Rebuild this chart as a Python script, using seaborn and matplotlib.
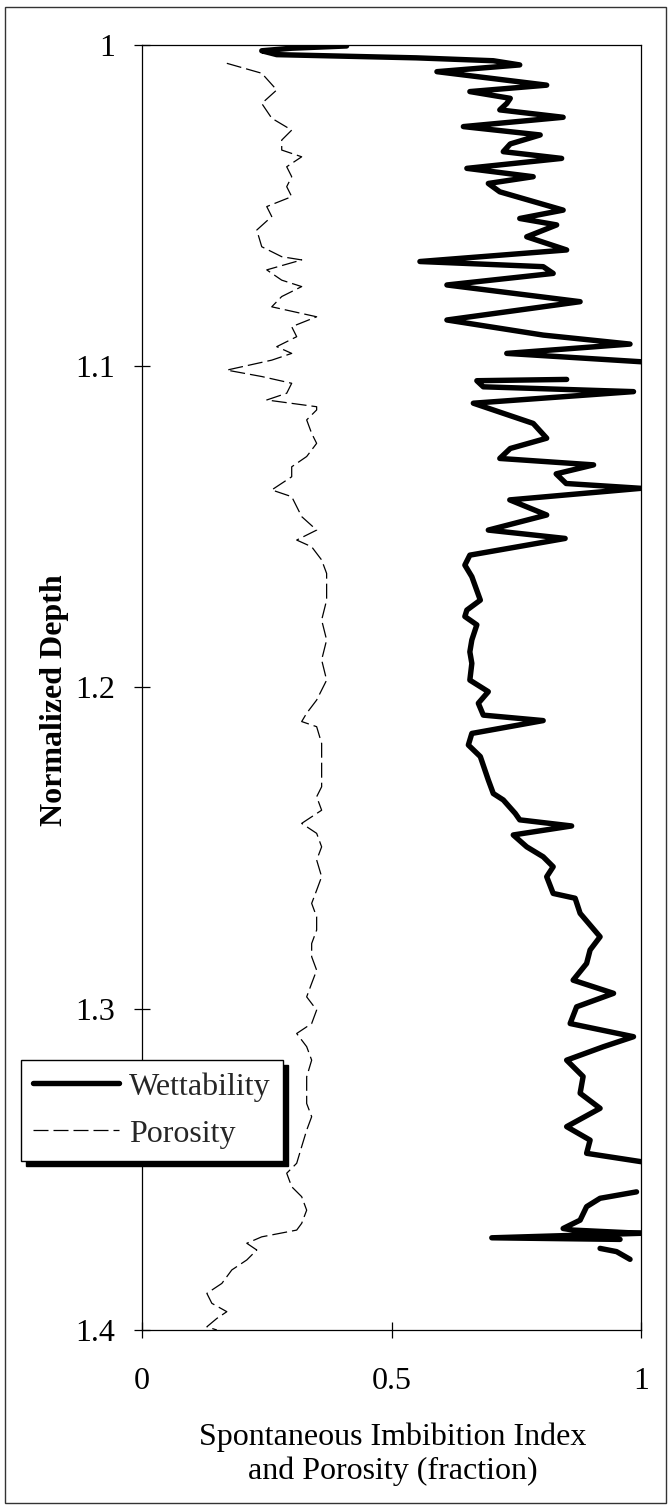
import numpy as np
import pandas as pd
import matplotlib
matplotlib.use("Agg")
import matplotlib.pyplot as plt
from matplotlib.lines import Line2D
from matplotlib.patches import Rectangle
import seaborn as sns

# ---------------- data ----------------
wet_seg1_x = [0.41, 0.30, 0.24, 0.27, 0.55, 0.704, 0.757, 0.591, 0.811, 0.657, 0.738, 0.731, 0.717,
              0.844, 0.644, 0.798, 0.738, 0.724, 0.841, 0.651, 0.784, 0.694, 0.717, 0.844, 0.757,
              0.831, 0.771, 0.851, 0.557, 0.804, 0.824, 0.611, 0.878, 0.611, 0.804, 0.978, 0.731,
              1.00, 1.02]
wet_seg1_d = [1.0003, 1.0010, 1.0018, 1.0030, 1.0040, 1.0049, 1.0062, 1.0083, 1.0125, 1.0145, 1.0166,
              1.0182, 1.0202, 1.0225, 1.0254, 1.0280, 1.0308, 1.0332, 1.0353, 1.0384, 1.0410, 1.0431,
              1.0457, 1.0514, 1.0540, 1.0560, 1.0597, 1.0638, 1.0674, 1.0690, 1.0711, 1.0747, 1.0799,
              1.0856, 1.0903, 1.0931, 1.0960, 1.0986, 1.0990]
wet_seg2_x = [0.851, 0.671, 0.684, 0.985, 0.664, 0.784, 0.811, 0.738, 0.717, 0.905, 0.83, 0.85,
              1.00, 0.737, 0.811, 0.694, 0.848, 0.657, 0.647, 0.661, 0.678, 0.651, 0.647, 0.671,
              0.661, 0.657, 0.661, 0.657, 0.694, 0.674, 0.684, 0.804, 0.661, 0.654, 0.678, 0.694,
              0.704, 0.724, 0.748, 0.757, 0.861, 0.744, 0.771, 0.804, 0.824, 0.811, 0.824, 0.868,
              0.878, 0.918, 0.898, 0.891, 0.864, 0.945, 0.871, 0.858, 0.985, 0.925, 0.851, 0.884,
              0.878, 0.918, 0.851, 0.898, 0.891, 1.00]
wet_seg2_d = [1.1041, 1.1045, 1.1064, 1.1079, 1.1115, 1.1178, 1.1224, 1.1256, 1.1287, 1.1307, 1.1335,
              1.1365, 1.1380, 1.1416, 1.1463, 1.1510, 1.1536, 1.1588, 1.1619, 1.1655, 1.1728, 1.1759,
              1.1779, 1.1805, 1.1852, 1.1889, 1.1925, 1.1977, 1.2013, 1.2049, 1.2086, 1.2103, 1.2143,
              1.2179, 1.2215, 1.2288, 1.2330, 1.2350, 1.2392, 1.2412, 1.2431, 1.2459, 1.2496, 1.2527,
              1.2558, 1.2589, 1.2641, 1.2656, 1.2703, 1.2776, 1.2817, 1.2859, 1.2911, 1.2952, 1.2994,
              1.3046, 1.3087, 1.3118, 1.3160, 1.3211, 1.3263, 1.3310, 1.3367, 1.3409, 1.3450, 1.3476]
wet_seg3_x = [0.991, 0.918, 0.891, 0.878, 0.844, 0.864, 1.00, 0.701, 0.958]
wet_seg3_d = [1.3570, 1.3590, 1.3616, 1.3658, 1.3684, 1.3689, 1.3699, 1.3713, 1.3718]
wet_seg4_x = [0.918, 0.951, 0.978]
wet_seg4_d = [1.3746, 1.3756, 1.3780]

por_x = [0.17, 0.24, 0.27, 0.24, 0.26, 0.30, 0.28, 0.28, 0.32, 0.29, 0.30, 0.29, 0.30, 0.25, 0.26,
         0.23, 0.24, 0.28, 0.32, 0.25, 0.28, 0.32, 0.28, 0.26, 0.35, 0.30, 0.31, 0.27, 0.30, 0.26,
         0.17, 0.24, 0.30, 0.29, 0.25, 0.35, 0.35, 0.33, 0.34, 0.35, 0.33, 0.30, 0.30, 0.26, 0.30,
         0.31, 0.32, 0.35, 0.31, 0.34, 0.36, 0.37, 0.37, 0.36, 0.37, 0.36, 0.37, 0.35, 0.33, 0.32,
         0.35, 0.36, 0.36, 0.36, 0.35, 0.36, 0.32, 0.35, 0.36, 0.35, 0.36, 0.35, 0.34, 0.35, 0.35,
         0.34, 0.34, 0.35, 0.34, 0.33, 0.35, 0.34, 0.31, 0.33, 0.34, 0.33, 0.33, 0.33, 0.34, 0.33,
         0.32, 0.31, 0.29, 0.30, 0.32, 0.33, 0.32, 0.31, 0.24, 0.21, 0.23, 0.21, 0.18, 0.16, 0.13,
         0.14, 0.17, 0.15, 0.13, 0.15]
por_d = [1.0057, 1.0088, 1.0140, 1.0182, 1.0228, 1.0265, 1.0296, 1.0327, 1.0348, 1.0379, 1.0410,
         1.0441, 1.0472, 1.0503, 1.0534, 1.0576, 1.0628, 1.0659, 1.0669, 1.0700, 1.0732, 1.0752,
         1.0783, 1.0815, 1.0846, 1.0877, 1.0908, 1.0939, 1.0960, 1.0981, 1.1012, 1.1032, 1.1053,
         1.1084, 1.1105, 1.1126, 1.1136, 1.1167, 1.1209, 1.1240, 1.1281, 1.1313, 1.1344, 1.1385,
         1.1406, 1.1437, 1.1468, 1.1510, 1.1541, 1.1562, 1.1603, 1.1645, 1.1728, 1.1790, 1.1852,
         1.1914, 1.1977, 1.2039, 1.2080, 1.2106, 1.2122, 1.2174, 1.2246, 1.2309, 1.2340, 1.2382,
         1.2423, 1.2454, 1.2496, 1.2537, 1.2589, 1.2631, 1.2672, 1.2714, 1.2755, 1.2797, 1.2838,
         1.2880, 1.2921, 1.2963, 1.3004, 1.3046, 1.3077, 1.3118, 1.3160, 1.3212, 1.3253, 1.3295,
         1.3336, 1.3378, 1.3429, 1.3481, 1.3512, 1.3554, 1.3585, 1.3627, 1.3668, 1.3689, 1.3710,
         1.3730, 1.3751, 1.3782, 1.3813, 1.3855, 1.3886, 1.3917, 1.3943, 1.3964, 1.3990, 1.4000]

series_labels = ["Wettability", "Porosity"]
x_ticks = [0, 0.5, 1]
x_tick_labels = ["0", "0.5", "1"]
y_ticks = [1.0, 1.1, 1.2, 1.3, 1.4]
y_tick_labels = ["1", "1.1", "1.2", "1.3", "1.4"]
x_label = "Spontaneous Imbibition Index\nand Porosity (fraction)"
y_label = "Normalized Depth"

# ---------------- style ----------------
sns.set_style("white")
plt.rcParams["font.family"] = ["Liberation Serif", "DejaVu Serif"]

W, H = 669, 1511
fig = plt.figure(figsize=(W / 100, H / 100), dpi=100)
ax = fig.add_axes([142 / W, 1 - 1330 / H, 499 / W, 1285 / H])

wet_segs = [(wet_seg1_x, wet_seg1_d), (wet_seg2_x, wet_seg2_d),
            (wet_seg3_x, wet_seg3_d), (wet_seg4_x, wet_seg4_d)]
wet_df = pd.concat([pd.DataFrame({"x": sx, "depth": sd, "seg": i})
                    for i, (sx, sd) in enumerate(wet_segs)], ignore_index=True)
por_df = pd.DataFrame({"x": por_x, "depth": por_d, "seg": 0})

sns.lineplot(data=por_df, x="x", y="depth", units="seg", estimator=None, sort=False,
             color="black", lw=0.9, linestyle=(0, (12, 4)), ax=ax, legend=False)
sns.lineplot(data=wet_df, x="x", y="depth", units="seg", estimator=None, sort=False,
             color="black", lw=3.9, ax=ax, legend=False, solid_joinstyle="round",
             solid_capstyle="round")

ax.set_xlim(0, 1)
ax.set_ylim(1.4, 1.0)
ax.set_xticks(x_ticks)
ax.set_xticklabels(x_tick_labels)
ax.set_yticks(y_ticks)
ax.set_yticklabels(y_tick_labels)
ax.tick_params(axis="both", direction="inout", length=11.5, width=0.9, color="black",
               labelsize=23, labelcolor="black")
ax.tick_params(axis="x", pad=21, bottom=True, top=False)
ax.tick_params(axis="y", pad=13.5, left=True, right=False)
for s in ax.spines.values():
    s.set_visible(True)
    s.set_color("black")
    s.set_linewidth(0.9)

ax.set_xlabel(x_label, fontsize=23, color="black", linespacing=1.2)
ax.xaxis.set_label_coords(0.502, -0.0716)
ax.set_ylabel(y_label, fontsize=23, fontweight="bold", color="black")
ax.yaxis.set_label_coords(-0.146, 0.49)

handles = [Line2D([], [], color="black", lw=3.9),
           Line2D([], [], color="black", lw=0.9, linestyle=(0, (12, 4)))]
leg = ax.legend(handles, series_labels, loc="upper left",
                bbox_to_anchor=((21 - 142) / 499, (1330 - 1060) / 1285),
                borderaxespad=0, fontsize=23, handlelength=2.7, handletextpad=0.3,
                borderpad=0.38, labelspacing=0.55, frameon=True, fancybox=False,
                shadow={"ox": 3.5, "oy": -3.5, "facecolor": "black", "edgecolor": "black",
                        "alpha": 1})
leg.get_frame().set_edgecolor("black")
leg.get_frame().set_linewidth(1.0)
leg.get_frame().set_facecolor("white")
leg.get_frame().set_alpha(1)
leg.set_zorder(10)

fig.patches.append(Rectangle((5 / W, 1 - 1503 / H), 661 / W, 1496 / H, transform=fig.transFigure,
                             fill=False, edgecolor="#333333", lw=1.0))

fig.savefig("out.png", dpi=100)
